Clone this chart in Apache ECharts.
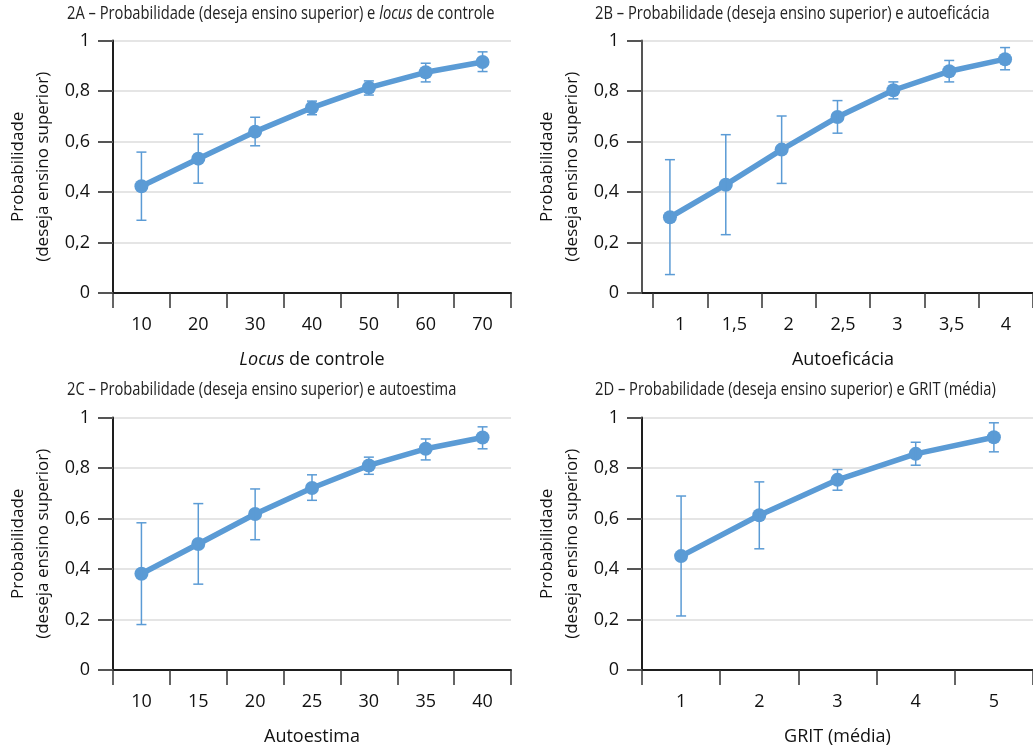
<!DOCTYPE html>
<html><head><meta charset="utf-8">
<script src="https://cdn.jsdelivr.net/npm/echarts@6/dist/echarts.min.js"></script>
<style>html,body{margin:0;padding:0;background:#fff}#c{width:1033px;height:749px}</style>
</head><body><div id="c"></div>
<script>
// ---- Data ----
const catsA = ['10','20','30','40','50','60','70'];
const probA = [0.423,0.532,0.639,0.734,0.813,0.874,0.915];
const lowA  = [0.288,0.435,0.583,0.706,0.784,0.836,0.877];
const highA = [0.558,0.629,0.696,0.760,0.840,0.910,0.955];

const catsB = ['1','1,5','2','2,5','3','3,5','4'];
const probB = [0.300,0.429,0.568,0.697,0.803,0.878,0.926];
const lowB  = [0.073,0.231,0.434,0.633,0.769,0.836,0.884];
const highB = [0.528,0.627,0.701,0.762,0.836,0.921,0.972];

const catsC = ['10','15','20','25','30','35','40'];
const probC = [0.381,0.499,0.618,0.721,0.810,0.876,0.921];
const lowC  = [0.180,0.340,0.516,0.672,0.775,0.832,0.876];
const highC = [0.583,0.659,0.717,0.773,0.843,0.915,0.963];

const catsD = ['1','2','3','4','5'];
const probD = [0.451,0.613,0.753,0.856,0.922];
const lowD  = [0.214,0.480,0.712,0.811,0.864];
const highD = [0.689,0.745,0.794,0.902,0.979];

const titles = [
  '2A – Probabilidade (deseja ensino superior) e {i|locus} de controle',
  '2B – Probabilidade (deseja ensino superior) e autoeficácia',
  '2C – Probabilidade (deseja ensino superior) e autoestima',
  '2D – Probabilidade (deseja ensino superior) e GRIT (média)'
];
const xNames = ['{i|Locus} de controle', 'Autoeficácia', 'Autoestima', 'GRIT (média)'];
const yName = 'Probabilidade\n(deseja ensino superior)';

// ---- Styles ----
const BLUE = '#5b9bd5';
const AX = '#1e1e1e';
const FONT = "'Open Sans', 'Noto Sans', sans-serif";

const grids = [
  {left: 113, top: 40.5, width: 398, height: 252.5},   // A
  {left: 642, top: 40.5, width: 398, height: 252.5},   // B data
  {left: 653, top: 40.5, width: 387, height: 252.5},   // B labels
  {left: 113, top: 417.5, width: 398, height: 252.5},  // C
  {left: 642, top: 417.5, width: 398, height: 252.5}   // D
];

function yAxisFor(gi, show, axisColor) {
  return {
    type: 'value', gridIndex: gi, min: 0, max: 1, interval: 0.2, show: show,
    name: yName, nameLocation: 'middle', nameRotate: 90, nameGap: 57,
    nameTextStyle: {fontFamily: FONT, fontSize: 17, lineHeight: 25, color: '#111'},
    axisLine: {show: true, lineStyle: {color: axisColor, width: 2}},
    axisTick: {show: true, length: 15, lineStyle: {color: '#555', width: 2}},
    axisLabel: {margin: 23, fontFamily: FONT, fontSize: 18, color: '#111',
      formatter: v => String(v).replace('.', ',')},
    splitLine: {show: true, lineStyle: {color: '#dcdcdc', width: 1.5}}
  };
}
function xAxisFor(gi, cats, name, opts) {
  return Object.assign({
    type: 'category', gridIndex: gi, data: cats, boundaryGap: true,
    name: name, nameLocation: 'middle', nameGap: 58,
    nameTextStyle: {fontFamily: FONT, fontSize: 18, color: '#111',
      rich: {i: {fontFamily: FONT, fontSize: 18, fontStyle: 'italic', color: '#111'}}},
    axisLine: {show: true, lineStyle: {color: AX, width: 2}},
    axisTick: {show: true, length: 15, alignWithLabel: false, lineStyle: {color: '#333', width: 1.5}},
    axisLabel: {margin: 23, fontFamily: FONT, fontSize: 18, color: '#111', interval: 0},
    splitLine: {show: false}
  }, opts || {});
}

function errSeries(xi, yi, low, high) {
  return {
    type: 'custom', xAxisIndex: xi, yAxisIndex: yi, z: 5,
    data: low.map((l, i) => [i, l, high[i]]),
    encode: {x: 0, y: [1, 2]},
    renderItem: function (params, api) {
      const x = api.value(0);
      const p1 = api.coord([x, api.value(1)]);
      const p2 = api.coord([x, api.value(2)]);
      const hw = 5;
      const st = {stroke: BLUE, lineWidth: 1.5};
      return {type: 'group', children: [
        {type: 'line', shape: {x1: p1[0], y1: p1[1], x2: p2[0], y2: p2[1]}, style: st},
        {type: 'line', shape: {x1: p1[0]-hw, y1: p1[1], x2: p1[0]+hw, y2: p1[1]}, style: st},
        {type: 'line', shape: {x1: p2[0]-hw, y1: p2[1], x2: p2[0]+hw, y2: p2[1]}, style: st}
      ]};
    }
  };
}
function lineSeries(xi, yi, vals) {
  return {
    type: 'line', xAxisIndex: xi, yAxisIndex: yi, data: vals, z: 3,
    symbol: 'circle', symbolSize: 14, showSymbol: true,
    lineStyle: {color: BLUE, width: 5.5}, itemStyle: {color: BLUE},
    emphasis: {disabled: true}, animation: false
  };
}

const titleText = (text, x, y) => ({
  type: 'text', x: x, y: y, scaleX: 0.84, silent: true,
  style: {text: text, fontFamily: FONT, fontSize: 17.5, fill: '#222', verticalAlign: 'middle',
    rich: {i: {fontFamily: FONT, fontSize: 17.5, fontStyle: 'italic', fill: '#222'}}}
});

const option = {
  animation: false,
  backgroundColor: '#fff',
  graphic: [
    titleText(titles[0], 67, 14.5),
    titleText(titles[1], 595, 14.5),
    titleText(titles[2], 67, 390),
    titleText(titles[3], 595, 390)
  ],
  grid: grids,
  xAxis: [
    xAxisFor(0, catsA, xNames[0]),
    xAxisFor(1, catsB, '', {axisTick: {show: false}, axisLabel: {show: false}}),
    xAxisFor(2, catsB, xNames[1], {axisLine: {show: false}}),
    xAxisFor(3, catsC, xNames[2]),
    xAxisFor(4, catsD, xNames[3])
  ],
  yAxis: [
    yAxisFor(0, true, AX),
    yAxisFor(1, true, '#555'),
    yAxisFor(2, false, AX),
    yAxisFor(3, true, AX),
    yAxisFor(4, true, AX)
  ],
  series: [
    lineSeries(0, 0, probA), errSeries(0, 0, lowA, highA),
    lineSeries(1, 1, probB), errSeries(1, 1, lowB, highB),
    lineSeries(3, 3, probC), errSeries(3, 3, lowC, highC),
    lineSeries(4, 4, probD), errSeries(4, 4, lowD, highD)
  ]
};
const chart = echarts.init(document.getElementById('c'), null, {renderer: 'canvas'});
chart.setOption(option);
</script></body></html>
